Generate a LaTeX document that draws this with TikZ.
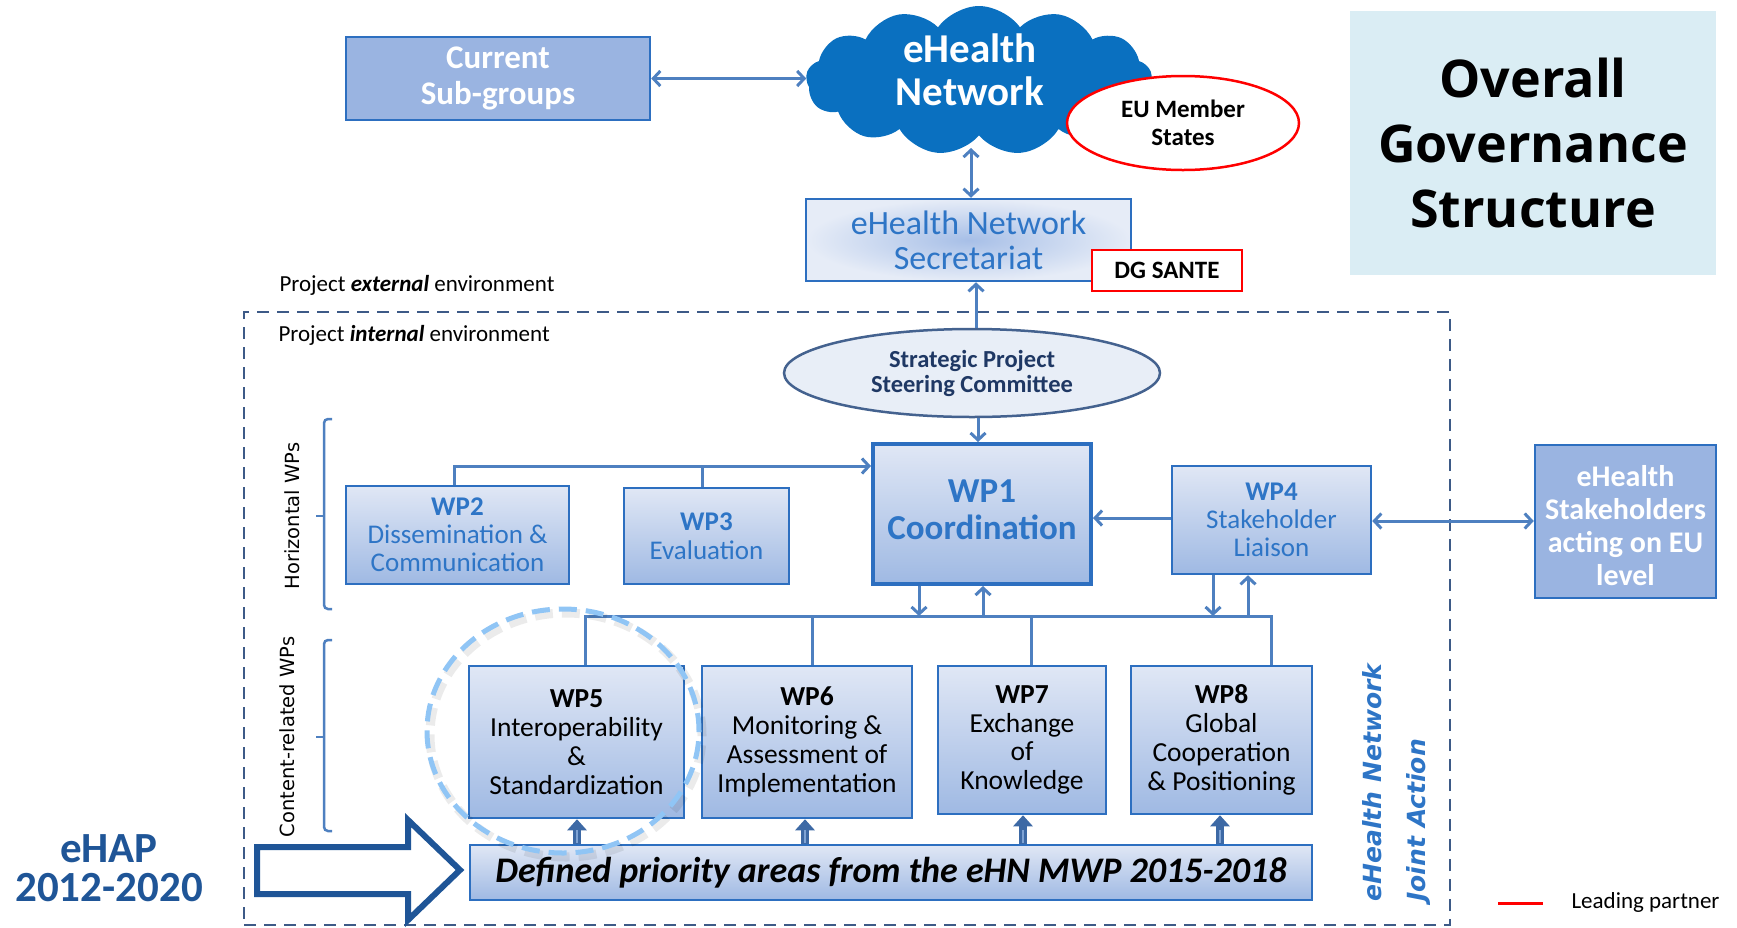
\documentclass[tikz,border=0pt]{standalone}
\usepackage{fontspec}
\setmainfont{Carlito}
\newfontfamily\ovfont{Open Sans}
\newfontfamily\dvf{DejaVu Sans}
\usetikzlibrary{shapes.geometric,shapes.symbols,arrows.meta,calc}
\definecolor{boxb}{HTML}{2D6FC0}
\definecolor{lightf}{HTML}{9AB4E1}
\definecolor{gtop}{HTML}{E0E7F5}
\definecolor{gbot}{HTML}{9FB9E3}
\definecolor{secin}{HTML}{A7BFE7}
\definecolor{secout}{HTML}{E6ECF7}
\definecolor{txtb}{HTML}{2E75C6}
\definecolor{connc}{HTML}{4E80C0}
\definecolor{dashc}{HTML}{3D5A87}
\definecolor{cloudb}{HTML}{0A70C0}
\definecolor{ovf}{HTML}{DAEDF4}
\definecolor{steerf}{HTML}{E8EEF7}
\definecolor{steerd}{HTML}{44628F}
\definecolor{steert}{HTML}{1F3864}
\definecolor{ehapc}{HTML}{1F5597}
\definecolor{fatc}{HTML}{3D69A5}
\definecolor{fatl}{HTML}{7FA3D4}
\definecolor{circc}{HTML}{90C5F5}
\newcommand\fsz[2]{\fontsize{#1}{#2}\selectfont}
\tikzset{
  sb/.tip={Straight Barb[length=7pt,width=15pt]},
  conn/.style={draw=connc, line width=3pt},
  wpbox/.style={draw=boxb, line width=2.5pt, top color=gtop, bottom color=gbot, align=center, inner sep=0pt},
  lightbox/.style={draw=boxb, line width=2.5pt, fill=lightf, align=center, inner sep=0pt, text=white},
  fat/.style={draw=fatc, line width=8pt, -{Triangle[length=11pt,width=19pt]}},
  fatin/.style={draw=fatl, line width=2pt},
}
\begin{document}
\begin{tikzpicture}[x=1pt,y=-1pt]
\useasboundingbox (0,0) rectangle (1737,927);
% environment frame
\node[draw=dashc, line width=2.5pt, dash pattern=on 12pt off 8pt, minimum width=1206, minimum height=613, inner sep=0pt] (env) at (847,618.5) {};
\node[anchor=west, font=\fsz{23}{25}] (extl) at (276,285) {Project \textbf{\textit{external}} environment};
\node[anchor=west, font=\fsz{23}{25}] (intl) at (275,335) {Project \textbf{\textit{internal}} environment};

% top part
\node[lightbox, minimum width=304, minimum height=83, font=\bfseries\fsz{33}{35.5}] (sub) at (498,78.5) {Current\\Sub-groups};
\node[cloud, cloud puffs=13, cloud puff arc=110, aspect=2.3, fill=cloudb, minimum width=346, minimum height=149, inner sep=0pt] (cloud) at (979,80.5) {};
\node[text=white, align=center, font=\bfseries\fsz{41}{43}] (cloudt) at (970,70) {eHealth\\Network};
\node[ellipse, draw=red, line width=2.5pt, fill=white, minimum width=232, minimum height=94, inner sep=0pt, align=center, font=\bfseries\fsz{25}{28}] (eu) at (1183,123) {EU Member\\States};
\node[draw=boxb, line width=2.5pt, shading=radial, inner color=secin, outer color=secout, minimum width=325, minimum height=82, inner sep=0pt, align=center, text=txtb, font=\fsz{34}{35}] (sec) at (968.5,240) {eHealth Network\\Secretariat};
\node[draw=red, line width=2.5pt, fill=white, minimum width=150, minimum height=41, inner sep=0pt, font=\bfseries\fsz{25}{28}] (dg) at (1167,270.5) {DG SANTE};
\node[fill=ovf, minimum width=366, minimum height=264, inner sep=0pt, align=center, font=\ovfont\bfseries\fsz{52}{65}] (ov) at (1533,143) {Overall\\Governance\\Structure};

% inner part
\node[ellipse, draw=steerd, line width=2.5pt, fill=steerf, minimum width=376, minimum height=88, inner sep=0pt, align=center, text=steert, font=\bfseries\fsz{24.5}{25}] (steer) at (972,373) {Strategic Project\\Steering Committee};
\node[wpbox, line width=4pt, minimum width=218, minimum height=140, text=txtb, font=\bfseries\fsz{35}{37}] (wp1) at (982,514) {WP1\\Coordination\rule[-8pt]{0pt}{8pt}};
\node[wpbox, minimum width=223, minimum height=98, text=txtb, font=\fsz{27}{28}] (wp2) at (457.5,535) {\textbf{WP2}\\Dissemination \&\\Communication};
\node[wpbox, minimum width=165, minimum height=96, text=txtb, font=\fsz{27}{29}] (wp3) at (706.5,536) {\textbf{WP3}\\Evaluation};
\node[wpbox, minimum width=199, minimum height=108, text=txtb, font=\fsz{27}{28}] (wp4) at (1271.5,520) {\textbf{WP4}\\Stakeholder\\Liaison};
\node[lightbox, minimum width=181, minimum height=153, font=\bfseries\fsz{30}{33}] (stake) at (1625.5,521.5) {\rule{0pt}{30pt}eHealth\\Stakeholders\\acting on EU\\level};

\node[wpbox, minimum width=215, minimum height=152, font=\fsz{27.5}{28.8}] (wp5) at (576.5,742) {\textbf{WP5}\\Interoperability\\\&\\Standardization};
\node[wpbox, minimum width=210, minimum height=152, font=\fsz{27.5}{28.8}] (wp6) at (807,742) {\textbf{WP6}\\Monitoring \&\\Assessment of\\Implementation};
\node[wpbox, minimum width=168, minimum height=148, font=\fsz{27.5}{28.8}] (wp7) at (1022,740) {\textbf{WP7}\\Exchange\\of\\Knowledge};
\node[wpbox, minimum width=181, minimum height=148, font=\fsz{27.5}{28.8}] (wp8) at (1221.5,740) {\textbf{WP8}\\Global\\Cooperation\\\& Positioning};
\node[wpbox, minimum width=842, minimum height=55, font=\bfseries\itshape\fsz{36}{38}] (def) at (891,872.5) {Defined priority areas from the eHN MWP 2015-2018};

% side labels
\node[rotate=90, font=\dvf\fsz{19.5}{22}] (hw) at (292,516) {Horizontal WPs};
\node[rotate=90, font=\dvf\fsz{19.5}{22}] (cw) at (287,737) {Content-related WPs};
\draw[conn, line width=2.5pt, rounded corners=4pt] (332,419) -- (324,419) -- (324,609) -- (332,609);
\draw[conn, line width=2.5pt] (324,516) -- (316,516);
\draw[conn, line width=2.5pt, rounded corners=4pt] (332,640) -- (324,640) -- (324,831) -- (332,831);
\draw[conn, line width=2.5pt] (324,737) -- (316,737);

\node[rotate=90, anchor=west, align=left, text=txtb, font=\dvf\bfseries\itshape\fsz{25}{44}] (ja) at (1396,905) {eHealth Network\\Joint Action};

% legend
\coordinate (lpa) at (1498,903);
\coordinate (lpb) at (1543,903);
\draw[red, line width=3pt] (lpa) -- (lpb);
\node[anchor=west, font=\fsz{23}{25}] (lp) at (1568,902) {Leading partner};

% eHAP
\node[text=ehapc, align=center, font=\bfseries\fsz{43}{39}] (ehap) at (109,868) {eHAP\\2012-2020};
\draw[ehapc, line width=6pt, fill=white, line join=miter] (257,847) -- (408,847) -- (408,820) -- (460,870) -- (408,920) -- (408,894) -- (257,894) -- cycle;

% connectors
\coordinate (cb) at (971,148);
\draw[conn, sb-sb] (sub.east) -- (sub.east -| cloud.west);
\draw[conn, sb-sb] (cb) -- (cb |- sec.north);
\draw[conn, -sb] (976,0 |- steer.north) -- (976,0 |- sec.south);
\draw[conn, -sb] (978,0 |- steer.south) -- (978,0 |- wp1.north);
\draw[conn, -sb] (454,0 |- wp2.north) |- (wp1.west |- 0,466);
\draw[conn] (702,0 |- wp3.north) -- (702,466);
\draw[conn, -sb] (wp4.west |- 0,518) -- (wp1.east |- 0,518);
\draw[conn, sb-sb] (wp4.east |- 0,521) -- (stake.west |- 0,521);
\coordinate (busL) at (585,616);
\coordinate (busR) at (1271,616);
\draw[conn] (585,0 |- wp5.north) -- (busL) -- (busR) -- (1271,0 |- wp8.north);
\draw[conn] (812,0 |- wp6.north) -- (812,616);
\draw[conn] (1031,0 |- wp7.north) -- (1031,616);
\draw[conn, -sb] (919,0 |- wp1.south) -- (919,616);
\draw[conn, -sb] (983,616) -- (983,0 |- wp1.south);
\draw[conn, -sb] (1213,0 |- wp4.south) -- (1213,616);
\draw[conn, -sb] (1248,616) -- (1248,0 |- wp4.south);

\foreach \xx/\w in {577/wp5,805/wp6,1023/wp7,1220/wp8}{
  \draw[fat] (\xx,0 |- def.north) -- (\xx,0 |- \w.south);
  \draw[fatin] (\xx,843) -- (\xx,830);
}

% highlight circle with soft shadow
\draw[black, opacity=0.08, line width=9pt, dash pattern=on 18pt off 9pt] (566,735) ellipse [x radius=136pt, y radius=122pt];
\node[ellipse, draw=circc, line width=5pt, dash pattern=on 18pt off 9pt, minimum width=272, minimum height=244, inner sep=0pt] (focus) at (563,731) {};
\end{tikzpicture}
\end{document}
